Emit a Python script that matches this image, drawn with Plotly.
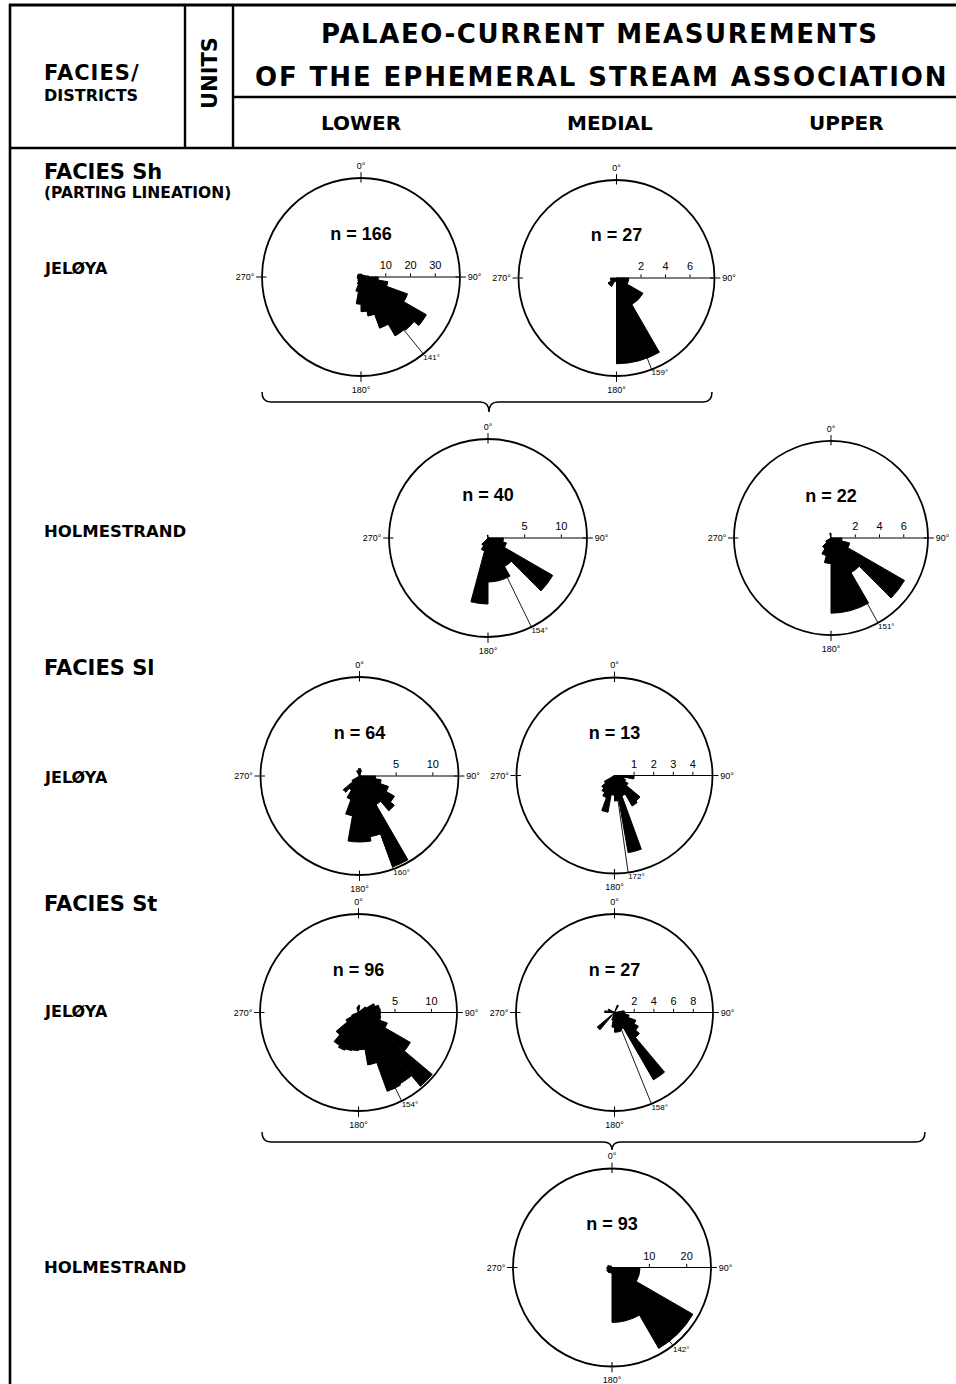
import plotly.graph_objects as go

W, H = 956, 1384

# ---------------- data ----------------
# Facies Sh, Jeløya, lower unit (10° classes)
SH_JEL_LOW_THETA = [5, 15, 25, 35, 45, 55, 65, 75, 85, 95, 105, 115, 125, 135, 145, 155, 165, 175,
                    185, 195, 205, 215, 225, 235, 245, 255, 265, 275, 285, 295, 305, 315, 325, 335, 345, 355]
SH_JEL_LOW_R = [1.2, 1.0, 1.0, 1.0, 1.0, 1.0, 1.5, 1.8, 3.0, 7.0, 11.0, 20.0, 30.5, 28.0, 27.5, 22.0, 16.0, 14.0,
                11.0, 6.0, 3.0, 2.0, 1.5, 1.5, 1.5, 1.5, 1.5, 1.5, 1.5, 1.5, 1.5, 1.5, 1.5, 1.2, 1.2, 1.2]
# Facies Sh, Jeløya, medial unit (30° classes)
SH_JEL_MED_THETA = [105, 135, 165, 195, 225, 255]
SH_JEL_MED_R = [1.0, 2.5, 7.0, 0.3, 0.8, 0.5]
# Facies Sh, Holmestrand, lower/medial (15° classes)
SH_HOL_LOW_THETA = [97.5, 112.5, 127.5, 142.5, 157.5, 172.5, 187.5, 202.5, 217.5, 352.5]
SH_HOL_LOW_R = [2.1, 2.6, 10.2, 4.5, 6.0, 6.0, 9.0, 1.8, 1.2, 0.4]
# Facies Sh, Holmestrand, upper unit (15° classes)
SH_HOL_UPP_THETA = [97.5, 112.5, 127.5, 142.5, 157.5, 172.5, 187.5, 202.5, 217.5, 232.5, 352.5]
SH_HOL_UPP_R = [0.9, 1.6, 7.0, 3.3, 6.2, 6.2, 2.1, 1.5, 1.0, 0.5, 0.4]
# Facies Sl, Jeløya, lower unit (10° classes)
SL_JEL_LOW_THETA = [5, 15, 95, 105, 115, 125, 135, 145, 155, 165, 175, 185, 195, 205, 215, 225, 235, 335, 345, 355]
SL_JEL_LOW_R = [1.0, 0.8, 2.2, 3.0, 4.2, 5.5, 6.2, 4.5, 13.2, 8.4, 9.0, 9.0, 5.5, 3.4, 2.2, 2.9, 1.2, 0.8, 0.6, 1.0]
# Facies Sl, Jeløya, medial unit (10° classes)
SL_JEL_MED_THETA = [95, 105, 115, 125, 135, 145, 155, 165, 175, 185, 195, 205, 215, 225, 235]
SL_JEL_MED_R = [1.0, 0.5, 0.6, 0.8, 1.7, 1.8, 1.1, 4.0, 1.3, 1.0, 1.9, 1.2, 1.0, 0.85, 0.6]
# Facies St, Jeløya, lower unit (10° classes)
ST_JEL_LOW_THETA = [5, 55, 65, 75, 85, 95, 105, 115, 125, 135, 145, 155, 165, 175, 185, 195, 205, 215,
                    225, 235, 245, 345, 355]
ST_JEL_LOW_R = [1.0, 1.2, 2.4, 2.9, 3.0, 3.0, 3.1, 4.2, 8.2, 13.2, 11.3, 11.5, 7.3, 5.1, 5.2, 5.3, 5.5, 5.2,
                4.0, 2.0, 1.0, 0.7, 0.8]
# Facies St, Jeløya, medial unit (10° classes)
ST_JEL_MED_THETA = [25, 85, 95, 105, 115, 125, 135, 145, 155, 165, 175, 185, 195, 225, 275, 295]
ST_JEL_MED_R = [0.8, 1.0, 1.1, 1.5, 2.3, 2.8, 3.3, 7.9, 1.8, 2.0, 2.0, 1.5, 0.8, 2.3, 1.0, 0.7]
# Facies St, Holmestrand, medial unit (30° classes)
ST_HOL_MED_THETA = [105, 135, 165, 195, 225, 255, 285, 315]
ST_HOL_MED_R = [7.5, 25.0, 14.7, 1.5, 1.6, 1.4, 1.2, 0.6]

CLASS_WIDTHS = [10, 30, 15, 15, 10, 10, 10, 10, 30]
N_VALUES = [166, 27, 40, 22, 64, 13, 96, 27, 93]
MEAN_DIRECTIONS = [141, 159, 154, 151, 160, 172, 154, 158, 142]
RADIAL_MAX = [40, 8, 13.5, 8, 13.5, 5, 13.5, 10, 26.5]
RADIAL_TICKS = [[10, 20, 30], [2, 4, 6], [5, 10], [2, 4, 6], [5, 10], [1, 2, 3, 4], [5, 10], [2, 4, 6, 8], [10, 20]]
ANGLE_TICKS = [0, 90, 180, 270]
ANGLE_TICK_TEXT = ["0°", "90°", "180°", "270°"]

THETAS = [SH_JEL_LOW_THETA, SH_JEL_MED_THETA, SH_HOL_LOW_THETA, SH_HOL_UPP_THETA,
          SL_JEL_LOW_THETA, SL_JEL_MED_THETA, ST_JEL_LOW_THETA, ST_JEL_MED_THETA, ST_HOL_MED_THETA]
RADII = [SH_JEL_LOW_R, SH_JEL_MED_R, SH_HOL_LOW_R, SH_HOL_UPP_R,
         SL_JEL_LOW_R, SL_JEL_MED_R, ST_JEL_LOW_R, ST_JEL_MED_R, ST_HOL_MED_R]

# ---------------- layout (pixel positions of the rose circles) ----------------
ROSE_POS = [(361, 277, 99), (616.5, 278, 98), (488, 538, 99), (831, 538, 97),
            (359.5, 776, 99), (614.5, 775.5, 98), (358.5, 1012.5, 98.5), (614.5, 1012.5, 98.5),
            (612, 1267.5, 99)]

SANS = "Liberation Sans, Arial, sans-serif"
BOLD = "DejaVu Sans, Liberation Sans, sans-serif"


def px(x):
    return x / W


def py(y):
    return 1 - y / H


fig = go.Figure()
polars = {}
for i in range(9):
    sub = "polar" if i == 0 else f"polar{i + 1}"
    rmax = RADIAL_MAX[i]
    mean = MEAN_DIRECTIONS[i]
    fig.add_trace(go.Barpolar(
        r=RADII[i], theta=THETAS[i], width=[CLASS_WIDTHS[i]] * len(THETAS[i]),
        marker=dict(color="black", line=dict(width=1.0, color="black")), subplot=sub,
        showlegend=False, hoverinfo="skip"))
    fig.add_trace(go.Scatterpolar(
        r=[0, rmax], theta=[mean, mean], mode="lines",
        line=dict(color="black", width=0.9), subplot=sub, showlegend=False, hoverinfo="skip"))
    rr, tt = [], []
    for a in ANGLE_TICKS:
        rr += [rmax * 0.955, rmax, None]
        tt += [a, a, None]
    fig.add_trace(go.Scatterpolar(
        r=rr, theta=tt, mode="lines", line=dict(color="black", width=1.1),
        subplot=sub, showlegend=False, hoverinfo="skip"))
    fig.add_trace(go.Scatterpolar(
        r=[rmax * 0.42], theta=[0], mode="text", text=[f"<b>n = {N_VALUES[i]}</b>"],
        textfont=dict(size=18, color="black", family=SANS), subplot=sub,
        showlegend=False, hoverinfo="skip", cliponaxis=False))
    fig.add_trace(go.Scatterpolar(
        r=[rmax], theta=[mean], mode="text", text=[f"{mean}°"], textposition="bottom right",
        textfont=dict(size=8, color="black", family=SANS), subplot=sub,
        showlegend=False, hoverinfo="skip", cliponaxis=False))
    cx, cy, rad = ROSE_POS[i]
    polars[sub] = dict(
        domain=dict(x=[px(cx - rad), px(cx + rad)], y=[py(cy + rad), py(cy - rad)]),
        bgcolor="white", bargap=0,
        angularaxis=dict(rotation=90, direction="clockwise", showgrid=False, showline=True,
                         linecolor="black", linewidth=1.8, ticks="outside", ticklen=5,
                         tickwidth=1.1, tickcolor="black", tickvals=ANGLE_TICKS,
                         ticktext=ANGLE_TICK_TEXT,
                         tickfont=dict(size=9, color="black", family=SANS)),
        radialaxis=dict(range=[0, rmax], angle=0, side="counterclockwise", showgrid=False,
                        showline=True, linecolor="black", linewidth=1.2, ticks="outside",
                        ticklen=3, tickcolor="black", tickvals=RADIAL_TICKS[i],
                        tickfont=dict(size=11, color="black", family=SANS), tickangle=0),
    )

# ---------------- text ----------------
ann = []


def text(x, y, s, size, anchor="left", angle=0, spacing=None):
    if spacing:
        s = f'<span style="letter-spacing:{spacing}px">{s}</span>'
    ann.append(dict(x=px(x), y=py(y), xref="paper", yref="paper", text=f"<b>{s}</b>",
                    showarrow=False, xanchor=anchor, yanchor="middle", textangle=angle,
                    font=dict(size=size, color="black", family=BOLD)))


text(42, 73, "FACIES/", 21, spacing=1)
text(42, 96, "DISTRICTS", 16)
text(210, 73, "UNITS", 21, anchor="center", angle=-90)
text(600, 34, "PALAEO-CURRENT MEASUREMENTS", 26, anchor="center", spacing=1.6)
text(601, 77, "OF THE EPHEMERAL STREAM ASSOCIATION", 26, anchor="center", spacing=1.9)
text(361, 123, "LOWER", 20, anchor="center")
text(610, 123, "MEDIAL", 20, anchor="center")
text(846, 123, "UPPER", 20, anchor="center")
text(42, 172, "FACIES Sh", 21)
text(42, 193, "(PARTING LINEATION)", 15.5)
text(42, 268, "JELØYA", 16)
text(42, 531, "HOLMESTRAND", 16.5)
text(42, 668, "FACIES Sl", 21)
text(42, 777, "JELØYA", 16)
text(42, 904, "FACIES St", 21)
text(42, 1011, "JELØYA", 16)
text(42, 1267, "HOLMESTRAND", 16.5)

# ---------------- frame and braces ----------------
shapes = []


def line(x0, y0, x1, y1, w=2.6):
    shapes.append(dict(type="line", xref="paper", yref="paper", x0=px(x0), y0=py(y0),
                       x1=px(x1), y1=py(y1), line=dict(color="black", width=w)))


line(9, 5, 956, 5, 3)
line(9, 148, 956, 148, 2.6)
line(233, 97, 956, 97, 2.4)
line(10, 4, 10, 1384, 2.6)
line(185, 5, 185, 148, 2.4)
line(233, 5, 233, 148, 2.4)


def brace(x0, x1, xm, y_end, y_line, y_tip, c=9):
    pts = [("M", x0, y_end), ("Q", x0, y_line), ("", x0 + c, y_line), ("L", xm - c, y_line),
           ("Q", xm, y_line), ("", xm, y_tip), ("Q", xm, y_line), ("", xm + c, y_line),
           ("L", x1 - c, y_line), ("Q", x1, y_line), ("", x1, y_end)]
    path = " ".join(f"{cmd}{px(x):.5f},{py(y):.5f}" for cmd, x, y in pts)
    shapes.append(dict(type="path", xref="paper", yref="paper", path=path,
                       line=dict(color="black", width=1.5)))


brace(262, 712, 489, 392, 402, 412)
brace(262, 925, 612, 1132, 1142, 1150)

fig.update_layout(**polars)
fig.update_layout(width=W, height=H, margin=dict(l=0, r=0, t=0, b=0),
                  paper_bgcolor="white", plot_bgcolor="white", showlegend=False,
                  annotations=ann, shapes=shapes)

fig.write_html("out.html")
